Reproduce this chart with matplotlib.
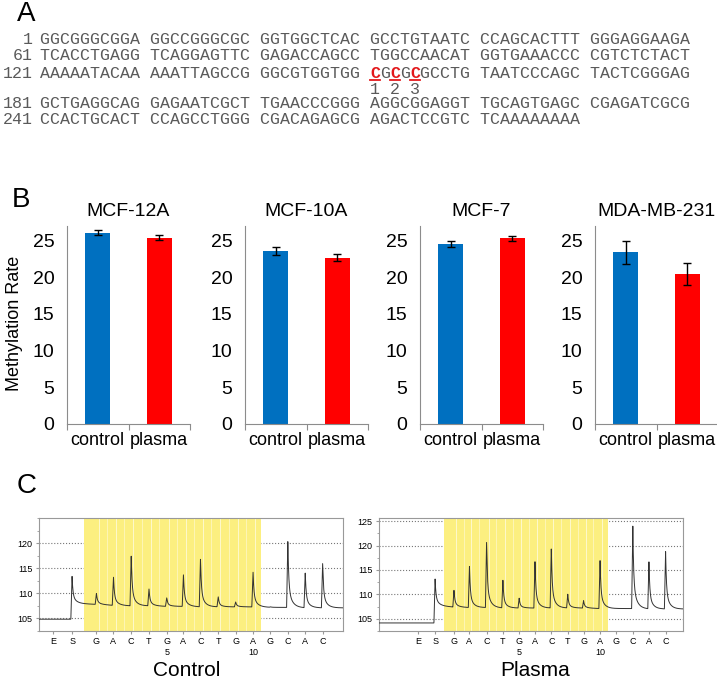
import numpy as np
import matplotlib
matplotlib.use('Agg')
from matplotlib import pyplot as plt
from matplotlib.lines import Line2D

plt.rcParams['font.family'] = ['Liberation Sans', 'DejaVu Sans']

# ---- panel A : sequence ----
seq_nums = ['1', '61', '121', '181', '241']
seq_rows = [
    'GGCGGGCGGA GGCCGGGCGC GGTGGCTCAC GCCTGTAATC CCAGCACTTT GGGAGGAAGA',
    'TCACCTGAGG TCAGGAGTTC GAGACCAGCC TGGCCAACAT GGTGAAACCC CGTCTCTACT',
    'AAAAATACAA AAATTAGCCG GGCGTGGTGG CGCGCGCCTG TAATCCCAGC TACTCGGGAG',
    'GCTGAGGCAG GAGAATCGCT TGAACCCGGG AGGCGGAGGT TGCAGTGAGC CGAGATCGCG',
    'CCACTGCACT CCAGCCTGGG CGACAGAGCG AGACTCCGTC TCAAAAAAAA',
]
cpg_row = 2
cpg_chars = [33, 35, 37]
cpg_labels = ['1', '2', '3']

# ---- panel B : methylation rate ----
cells = ['MCF-12A', 'MCF-10A', 'MCF-7', 'MDA-MB-231']
groups = ['control', 'plasma']
control_mean = [26.1, 23.6, 24.5, 23.4]
control_err = [0.35, 0.5, 0.4, 1.6]
plasma_mean = [25.4, 22.7, 25.3, 20.4]
plasma_err = [0.35, 0.45, 0.4, 1.5]

# ---- panel C : pyrograms ----
disp_labels = ['E', 'S', 'G', 'A', 'C', 'T', 'G', 'A', 'C', 'T', 'G', 'A', 'G', 'C', 'A', 'C']
disp_numbers = {6: '5', 11: '10'}
# x of each dispensation
ctrl_x = [0.8, 1.9, 3.3, 4.28, 5.3, 6.32, 7.34, 8.3, 9.28, 10.3, 11.3, 12.3, 13.3, 14.3, 15.3, 16.3]
plas_x = [2.4, 3.44, 4.6, 5.55, 6.6, 7.6, 8.6, 9.57, 10.57, 11.58, 12.55, 13.56, 14.55, 15.57, 16.56, 17.58]
# peak tops from S onward (no peak -> baseline)
ctrl_peaks = [113.4, 110.0, 113.3, 117.5, 110.9, 109.1, 113.7, 116.9, 109.3, 108.3, 114.4, 107.3, 120.6, 114.1, 116.0]
plas_peaks = [113.3, 110.9, 115.75, 120.8, 113.0, 109.2, 116.7, 119.65, 110.0, 108.7, 117.2, 107.1, 124.5, 116.7, 119.1]
# baseline level before E/S, then level at each dispensation after S
ctrl_pre = 104.85
ctrl_base = [108.0, 107.8, 107.6, 107.5, 107.5, 107.4, 107.4, 107.3, 107.3, 107.3, 107.3, 107.2, 107.2, 107.1, 107.1]
plas_pre = 104.15
plas_base = [107.7, 107.4, 107.3, 107.3, 107.2, 107.2, 107.2, 107.2, 107.2, 107.2, 107.1, 107.1, 107.1, 107.0, 107.0]

W, H = 717, 681
fig = plt.figure(figsize=(W / 100, H / 100), dpi=100)


def box(l, t, r, b):
    return [l / W, 1 - b / H, (r - l) / W, (b - t) / H]


def put(x, y, s, **kw):
    fig.text(x / W, 1 - y / H, s, **kw)


# panel letters
put(26, 14, 'A', fontsize=20, ha='center', va='center')
put(21, 200, 'B', fontsize=20, ha='center', va='center')
put(27, 486, 'C', fontsize=20, ha='center', va='center')

# ---- A ----
mono = 'Liberation Mono'
grey = '#5a5a5a'
red = '#e3191c'
x0, cw = 40, 10.0
row_y = [39, 56, 73, 104, 120]
for n, (num, seq, y) in enumerate(zip(seq_nums, seq_rows, row_y)):
    put(33, y, num, family=mono, fontsize=12, color=grey, ha='right', va='center')
    if n != cpg_row:
        put(x0, y, seq, family=mono, fontsize=12, color=grey, ha='left', va='center')
        continue
    # split the row so the red CpG sites sit in their own texts
    cuts = [0] + [c for i in cpg_chars for c in (i, i + 1)] + [len(seq)]
    for a, b in zip(cuts[:-1], cuts[1:]):
        piece = seq[a:b]
        if a in cpg_chars:
            xc = x0 + (a + 0.5) * cw
            put(xc, y, piece, family=mono, fontsize=12, weight='bold',
                color=red, ha='center', va='center')
            fig.add_artist(Line2D([(xc - 5) / W, (xc + 5) / W], [1 - (y + 6.5) / H] * 2,
                                  color=red, lw=1.3))
        elif b - a == 1:
            put(x0 + (a + 0.5) * cw, y, piece, family=mono, fontsize=12, color=grey,
                ha='center', va='center')
        else:
            put(x0 + a * cw, y, piece, family=mono, fontsize=12, color=grey,
                ha='left', va='center')
for idx, lab in zip(cpg_chars, cpg_labels):
    put(x0 + (idx + 0.5) * cw, 89, lab, family=mono, fontsize=12, color=grey,
        ha='center', va='center')

# ---- B ----
b_left = [67, 245, 420, 595]
for i, name in enumerate(cells):
    ax = fig.add_axes(box(b_left[i], 226, b_left[i] + 123, 424))
    ax.bar([0.5, 1.5], [control_mean[i], plasma_mean[i]], width=0.41,
           color=['#0070c0', '#ff0000'],
           yerr=[control_err[i], plasma_err[i]],
           error_kw=dict(ecolor='black', capsize=3, elinewidth=1, capthick=1))
    ax.set_xlim(0, 2)
    ax.set_ylim(0, 27)
    ax.set_yticks(range(0, 26, 5))
    for sp in ['top', 'right']:
        ax.spines[sp].set_visible(False)
    for sp in ['left', 'bottom']:
        ax.spines[sp].set_color('#8c8c8c')
    ax.set_xticks([0, 1, 2])
    ax.set_xticklabels([])
    ax.set_xticks([0.5, 1.5], minor=True)
    ax.set_xticklabels(groups, minor=True, fontsize=13)
    ax.tick_params(axis='x', which='minor', length=0, pad=6)
    ax.tick_params(axis='x', which='major', length=4, color='#8c8c8c')
    ax.tick_params(axis='y', labelsize=14, length=0, pad=9)
    ax.set_title(name, fontsize=14, pad=7)
put(15, 323, 'Methylation Rate', fontsize=13, rotation=90, ha='center', va='center')


# ---- C ----
def trace(xs, disp_x, peaks, pre, base_lv):
    sx = disp_x[1]
    base = np.where(xs < sx, pre, np.interp(xs, disp_x[1:], base_lv))
    y = base.copy()
    w = 0.07
    for p, top in zip(disp_x[1:], peaks):
        b_at = np.interp(p, disp_x[1:], base_lv)
        rise = (xs >= p - w) & (xs < p)
        y[rise] += (top - base[rise]) * (xs[rise] - (p - w)) / w
        d = xs[xs >= p] - p
        y[xs >= p] += (top - b_at) * (0.7 * np.exp(-d / 0.05) + 0.3 * np.exp(-d / 0.22))
    return y


panels = [
    (box(39, 518, 343, 631), ctrl_x, ctrl_peaks, ctrl_pre, ctrl_base, (0, 17.47),
     (104.4, 120.7), [105, 110, 115, 120], (2.59, 12.76), 'Control', 187),
    (box(379, 518, 683, 631), plas_x, plas_peaks, plas_pre, plas_base, (0, 18.65),
     (103.7, 125.65), [105, 110, 115, 120, 125], (3.99, 14.05), 'Plasma', 535),
]
for rect, dx, pk, pre, blv, xl, yl, yt, span, label, lx in panels:
    ax = fig.add_axes(rect)
    ax.set_xlim(*xl)
    ax.set_ylim(*yl)
    ax.set_axisbelow(True)
    ax.set_yticks(yt)
    ax.set_yticks(np.arange(102.5, 126, 2.5), minor=True)
    ax.yaxis.grid(True, linestyle=':', color='#777777', lw=0.8)
    ax.axvspan(span[0], span[1], color='#fcef80', lw=0, zorder=1)
    for p in dx[2:]:
        if span[0] < p < span[1]:
            ax.axvline(p + 0.12, color='white', lw=0.6, alpha=0.7, zorder=2)
            ax.axvline(p + 0.6, color='white', lw=0.6, alpha=0.5, zorder=2)
    xs = np.linspace(xl[0], xl[1], 4000)
    ax.plot(xs, trace(xs, dx, pk, pre, blv), color='#333333', lw=0.7, zorder=3)
    ax.set_xticks(dx)
    ax.set_xticklabels([lab + ('\n' + disp_numbers[i] if i in disp_numbers else '')
                        for i, lab in enumerate(disp_labels)], fontsize=6.5, va='top')
    ax.tick_params(axis='both', which='both', length=2.5, color='#999999', labelsize=6.5,
                   pad=2)
    ax.tick_params(axis='y', which='minor', length=1.5)
    for sp in ax.spines.values():
        sp.set_color('#999999')
        sp.set_linewidth(0.8)
    put(lx, 670, label, fontsize=15, ha='center', va='center')

fig.savefig('out.png', dpi=100)
